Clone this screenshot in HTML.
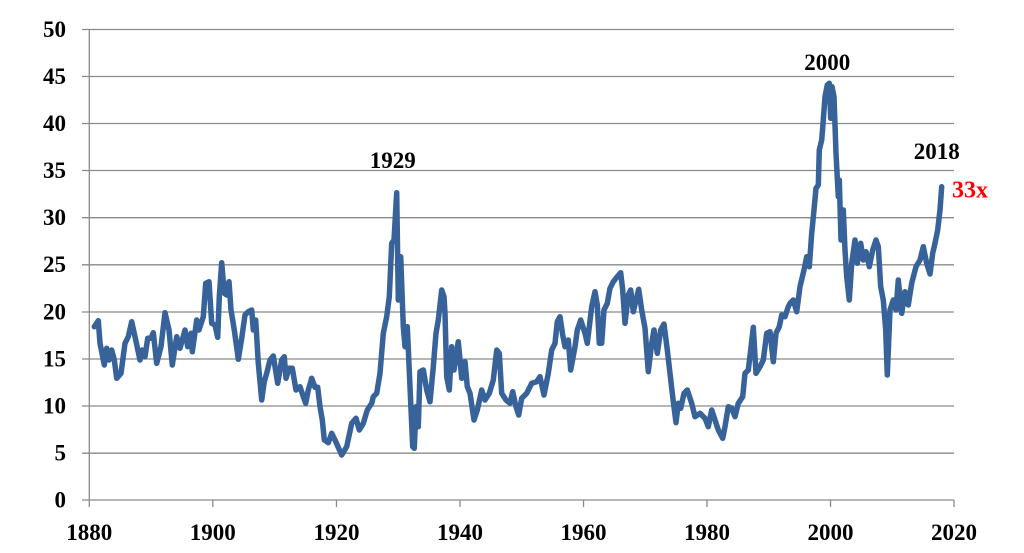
<!DOCTYPE html>
<html><head><meta charset="utf-8"><style>
html,body{margin:0;padding:0;background:#fff;}
svg{display:block;}
text{font-family:"Liberation Serif",serif;font-weight:bold;font-size:23px;fill:#000;}
</style></head><body>
<svg width="1024" height="553" viewBox="0 0 1024 553" xmlns="http://www.w3.org/2000/svg">
<g stroke="#8a8a8a" stroke-width="1.3" fill="none">
<line x1="82" y1="29.5" x2="954" y2="29.5"/>
<line x1="82" y1="76.5" x2="954" y2="76.5"/>
<line x1="82" y1="123.5" x2="954" y2="123.5"/>
<line x1="82" y1="170.5" x2="954" y2="170.5"/>
<line x1="82" y1="217.7" x2="954" y2="217.7"/>
<line x1="82" y1="264.8" x2="954" y2="264.8"/>
<line x1="82" y1="312" x2="954" y2="312"/>
<line x1="82" y1="359" x2="954" y2="359"/>
<line x1="82" y1="406" x2="954" y2="406"/>
<line x1="82" y1="453.2" x2="954" y2="453.2"/>
<line x1="82" y1="500" x2="954" y2="500"/>
<line x1="89.3" y1="29.5" x2="89.3" y2="507"/>
<line x1="212.8" y1="500" x2="212.8" y2="507"/>
<line x1="336.5" y1="500" x2="336.5" y2="507"/>
<line x1="460" y1="500" x2="460" y2="507"/>
<line x1="583.5" y1="500" x2="583.5" y2="507"/>
<line x1="707" y1="500" x2="707" y2="507"/>
<line x1="830.5" y1="500" x2="830.5" y2="507"/>
<line x1="954" y1="500" x2="954" y2="507"/>
</g>
<g text-anchor="end">
<text x="66" y="37">50</text>
<text x="66" y="84">45</text>
<text x="66" y="131">40</text>
<text x="66" y="178">35</text>
<text x="66" y="225">30</text>
<text x="66" y="272">25</text>
<text x="66" y="319.5">20</text>
<text x="66" y="366.5">15</text>
<text x="66" y="413.5">10</text>
<text x="66" y="460.5">5</text>
<text x="66" y="507.5">0</text>
</g>
<g text-anchor="middle">
<text x="89.3" y="540">1880</text>
<text x="212.8" y="540">1900</text>
<text x="336.5" y="540">1920</text>
<text x="460" y="540">1940</text>
<text x="583.5" y="540">1960</text>
<text x="707" y="540">1980</text>
<text x="830.5" y="540">2000</text>
<text x="954" y="540">2020</text>
<text x="392.7" y="168">1929</text>
<text x="827.2" y="70">2000</text>
<text x="936.8" y="159">2018</text>
</g>
<text x="952" y="197.5" style="fill:#ff0000;font-size:24px">33x</text>
<polyline fill="none" stroke="#38629a" stroke-width="5.5" stroke-linejoin="round" stroke-linecap="round" points="
94.3,326.7 98.3,320.7 100,343.3 104.3,365 106.7,348.3 109,360 111.7,350 114.3,360 116.7,378.3 121,373.3 125,343.3 128.3,336.7 131.7,321.7 135,336.7 140,360 142.3,350 145,356.7 147.7,338.3 151,338.3 153.3,332.7 156.7,363.3 161,346.7 165,312.7 169,330 172.3,365 176.7,336.7 180,348.3 185,330 187.7,346.7 191,333.3 192.3,351.7 196.7,320 199,330 203.3,316.7 205.7,283.3 209,281.7 211.7,323.3 215,325 217.7,337.3 219.3,296.7 221.7,262.7 224.3,293.3 226.7,295 229,281.7 231,310 234.3,330 238.3,359.3 241.7,338.3 245,315 248.3,311.7 251.7,310 253.3,330 255.7,320 258.3,363.3 261.7,400 264.3,381.7 266.7,373.3 270,360 273.3,356 277.7,383.3 281.7,360 284.3,356.7 286,378.3 289,368.3 292.3,368.3 296,390 300,386.7 303.3,396.7 305.7,403.3 308.3,390 311.7,378.3 315,387.3 317.7,387.3 320,406.7 322.3,420 324.3,440 328.3,442.7 331.7,433.3 335,440
341.7,455 346.7,446.7 351.7,423.3 356,418.3 359.3,430 363.3,423.3 367.3,410 371.7,403.3 373.3,396.7 376.7,393.3 380,373.3 383.3,333.3 386.7,316.7 389.3,296.7 391.7,243.3 394,240 396.7,192.7 398.3,300 400.7,256.7 403.3,326.7 405,346.7 407.3,326.7 410,386.7 412.7,446.7 414.3,448.3 416,406.7 418.3,426.7 420,371.7 423.3,370 426.7,390 430,401.7 433.3,366.7 436,333.3 438.3,320 441.7,290 444,296.7 445,313.3 446.7,376.7 449.3,390 451.7,346.7 454,370 458.3,341.7 461.7,378.3 465,361.7 467.3,386.7 470,393.3 474,420 477.3,410 481.7,390 485,400 489.3,393.3 493.3,380 496.7,350 499.3,353.3 501.7,393.3 506,400 510,403.3 512.7,391.7 516,406.7 518.7,415 521.7,398.3 526.7,393.3 531.7,383.3 536.7,381.7 540,376.7 544,395 548.3,373.3 551.7,350 555,343.3 557.3,321.7 560,316.7 562.7,335 565,346.7 568.3,340 570.7,370 575,346.7 577.3,330 580.7,320 585,333.3 587.3,343.3
591.7,306.7 595,291.7 597.3,305 599.3,343.3 601.7,343.3 604,310 607.3,303.3 610,288.3 613.3,281.7 617.3,276.7 620.7,272.7 622.7,290 625,323.3 628.3,295 630.7,290 633.3,311.7 636,300 638.7,289.3 641.7,310 645,328.3 648.3,371.7 651.7,343.3 654,330 657.3,353.3 660.7,330 664,324 667.3,350 670,373.3 672.7,396.7 676,422.7 678.3,403.3 680.7,408.3 684,393.3 687.3,390 691.7,403.3 695,416.7 700,413.3 705,418.3 708.3,426.7 711.7,410 715,420 718.3,430 722.7,438.3 725,426.7 728.3,406.7 731.7,408.3 735,416.7 738.3,403.3 742.7,396.7 745,373.3 748.3,370 750.7,350 753.3,327.3 756,373.3 760,366.7 763.3,360 766.7,333.3 770,331.7 773.3,361.7 776,333.3 779.3,326.7 781.7,315 785,316.7 788.3,306.7
790,303.3 793.3,300 796.7,311.7 800,286.7 804,270 806.7,256.7 809.3,266.7 811.7,233.3 814,210 816,188.3 818.3,185 819.3,150 821.7,140 823.3,120 825,96.7 827.3,85 829.3,83.3 830.7,118.3 832,86.7 834,96.7 836,153.3 838.3,196.7 839.3,180 841,240 843.3,210 845,250 846.7,276.7 849.3,300 851.7,263.3 855,240 857.3,263.3 860.7,243.3 863.3,260 866,251.7 869.3,266.7 872.7,250 876,240 878.3,246.7 880.7,286.7 883.3,300 885.7,330 887.3,375 890,310 893.3,300 896,310 898.3,280 901.7,313.3 905,291.7 908.3,305 911.7,283.3 916,266.7 920,260 923.3,246.7 926.7,263.3 930,274 932.7,253.3 935,243.3 937.7,230 940,210 941.7,186.7"/>
</svg>
</body></html>
